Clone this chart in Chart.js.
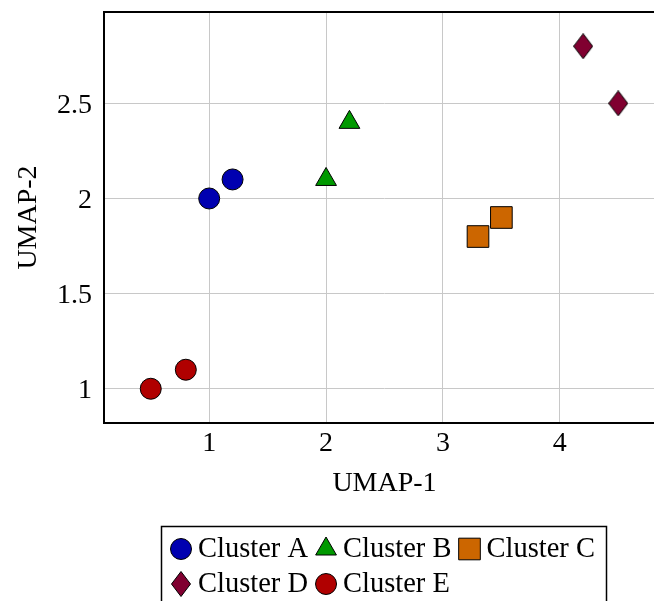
<!DOCTYPE html>
<html>
<head>
<meta charset="utf-8">
<script src="https://cdn.jsdelivr.net/npm/chart.js@4.4.0/dist/chart.umd.min.js"></script>
<style>
html, body { margin: 0; padding: 0; background: #fff; overflow: hidden; }
</style>
</head>
<body>
<canvas id="myChart" width="680" height="601"></canvas>
<script>
// data
const clusterNames = ['Cluster A', 'Cluster B', 'Cluster C', 'Cluster D', 'Cluster E'];
const clusterX = [[1.0, 1.2], [2.0, 2.2], [3.3, 3.5], [4.2, 4.5], [0.5, 0.8]];
const clusterY = [[2.0, 2.1], [2.1, 2.4], [1.8, 1.9], [2.8, 2.5], [1.0, 1.1]];
const xTicks = [1, 2, 3, 4];
const yTicks = [1, 1.5, 2, 2.5];

const FONT = '"Liberation Serif", "Times New Roman", serif';

// tall diamond, chart.js rectRot is a square so build one
function makeDiamond(color) {
    const c = document.createElement('canvas');
    c.width = 20;
    c.height = 26;
    const g = c.getContext('2d');
    g.beginPath();
    g.moveTo(10, 0.5);
    g.lineTo(19.5, 13);
    g.lineTo(10, 25.5);
    g.lineTo(0.5, 13);
    g.closePath();
    g.fillStyle = color;
    g.fill();
    g.lineWidth = 1;
    g.strokeStyle = '#000';
    g.stroke();
    return c;
}

const colors = ['#0000b0', '#009900', '#cc6600', '#800030', '#b00000'];
const styles = ['circle', 'triangle', 'rect', makeDiamond(colors[3]), 'circle'];
const radii = [10.5, 12, 15.3, 13, 10.5];

const datasets = clusterNames.map(function(name, i) {
    return {
        label: name,
        data: clusterX[i].map(function(x, j) { return { x: x, y: clusterY[i][j] }; }),
        pointStyle: styles[i],
        pointRadius: radii[i],
        backgroundColor: colors[i],
        borderColor: '#000',
        borderWidth: 1
    };
});

const frame = {
    id: 'frame',
    beforeDatasetsDraw(chart) {
        const a = chart.chartArea;
        const ctx = chart.ctx;
        ctx.save();
        ctx.lineWidth = 2;
        ctx.strokeStyle = '#000';
        ctx.strokeRect(a.left, a.top, a.right - a.left, a.bottom - a.top);
        ctx.restore();
    }
};

const legendBox = {
    id: 'legendBox',
    afterDraw(chart) {
        const ctx = chart.ctx;
        const boxL = 161.5, boxT = 526.5, boxW = 445, boxH = 90;
        ctx.save();
        ctx.lineWidth = 1.5;
        ctx.strokeStyle = '#000';
        ctx.strokeRect(boxL, boxT, boxW, boxH);
        ctx.font = '28.5px ' + FONT;
        ctx.textBaseline = 'middle';
        let x = 170, y = 549;
        chart.data.datasets.forEach(function(ds) {
            const w = 28 + ctx.measureText(ds.label).width;
            if (x + w > boxL + boxW - 4) {
                x = 170;
                y += 35;
            }
            ctx.fillStyle = ds.backgroundColor;
            ctx.strokeStyle = '#000';
            ctx.lineWidth = 1;
            Chart.helpers.drawPoint(ctx, {
                pointStyle: ds.pointStyle,
                radius: ds.pointRadius,
                rotation: 0,
                borderWidth: 1
            }, x + 11, y);
            ctx.fillStyle = '#000';
            ctx.fillText(ds.label, x + 28, y + 1);
            x += w + 7;
        });
        ctx.restore();
    }
};

function plainLabel(v) { return String(v); }

const config = {
    type: 'scatter',
    data: { datasets: datasets },
    options: {
        responsive: false,
        animation: false,
        events: [],
        layout: { autoPadding: false, padding: { top: 12, left: 0, right: 15, bottom: 98 } },
        plugins: {
            legend: { display: false },
            tooltip: { enabled: false }
        },
        scales: {
            x: {
                type: 'linear',
                min: 0.1,
                max: 4.9,
                afterBuildTicks: function(s) { s.ticks = xTicks.map(function(v) { return { value: v }; }); },
                afterFit: function(s) { s.height = 80; s.paddingLeft = 0; s.paddingRight = 0; },
                grid: { color: '#c8c8c8', drawTicks: false },
                border: { display: false },
                ticks: { color: '#000', padding: 4, callback: plainLabel, font: { family: FONT, size: 28 } },
                title: {
                    display: true,
                    text: 'UMAP-1',
                    color: '#000',
                    padding: { top: 0, bottom: 3 },
                    font: { family: FONT, size: 28 }
                }
            },
            y: {
                type: 'linear',
                min: 0.82,
                max: 2.98,
                afterBuildTicks: function(s) { s.ticks = yTicks.map(function(v) { return { value: v }; }); },
                afterFit: function(s) { s.width = 104; s.paddingTop = 0; s.paddingBottom = 0; },
                grid: { color: '#c8c8c8', drawTicks: false },
                border: { display: false },
                ticks: { color: '#000', padding: 12, labelOffset: 2, callback: plainLabel, font: { family: FONT, size: 28 } },
                title: {
                    display: true,
                    text: 'UMAP-2',
                    color: '#000',
                    padding: { top: 12, bottom: 0 },
                    font: { family: FONT, size: 28 }
                }
            }
        }
    },
    plugins: [frame, legendBox]
};

const myChart = new Chart(document.getElementById('myChart'), config);
</script>
</body>
</html>
